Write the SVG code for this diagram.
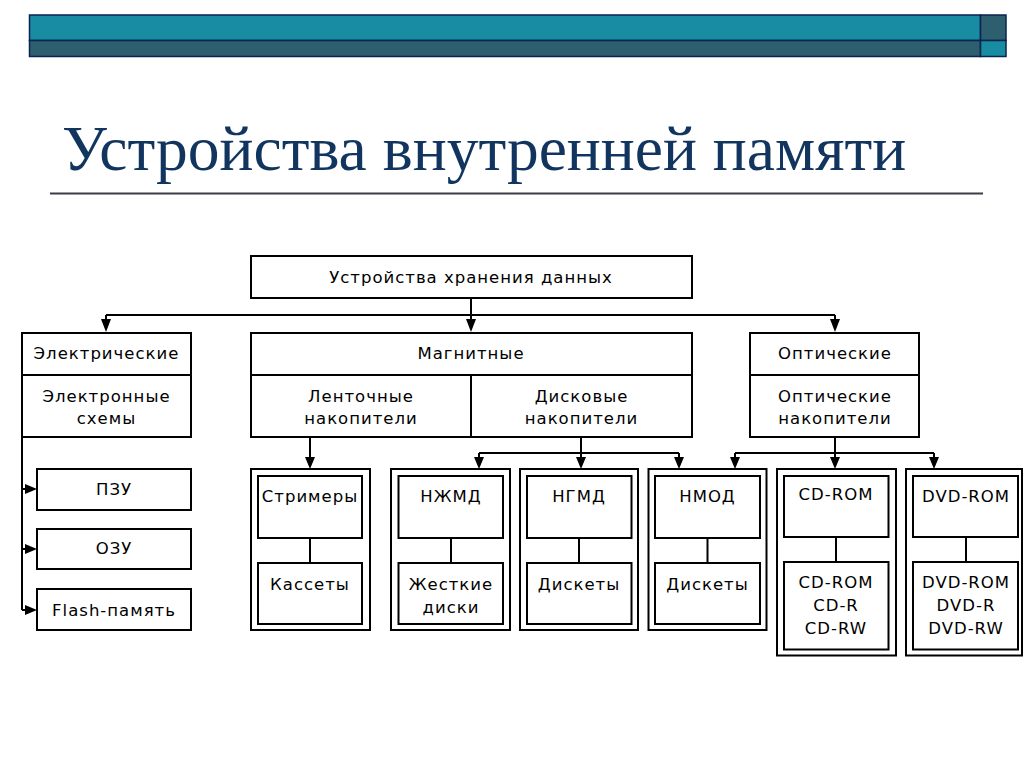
<svg xmlns="http://www.w3.org/2000/svg" width="1024" height="767" viewBox="0 0 1024 767">
<defs>
<style>
.box{fill:#fff;stroke:#000;stroke-width:2}
.ln{fill:none;stroke:#000;stroke-width:2}
.t{font-family:"DejaVu Sans",Verdana,sans-serif;font-size:16.5px;letter-spacing:1px;fill:#000;text-anchor:middle}
.title{font-family:"Liberation Serif","Times New Roman",serif;font-size:63.5px;fill:#11355f}
</style>
</defs>
<rect width="1024" height="767" fill="#fff"/>
<g id="header">
<rect x="29.5" y="15" width="951" height="25.5" fill="#178ca3" stroke="#0b2350" stroke-width="1.5"/>
<rect x="29.5" y="40.5" width="951" height="16" fill="#2d5f6e" stroke="#0b2350" stroke-width="1.5"/>
<rect x="980.5" y="15" width="25.5" height="25.5" fill="#2d5f6e" stroke="#0b2350" stroke-width="1.5"/>
<rect x="980.5" y="40.5" width="25.5" height="16" fill="#178ca3" stroke="#0b2350" stroke-width="1.5"/>
</g>
<g id="title">
<text class="title" x="62" y="170">Устройства внутренней памяти</text>
<line x1="50" y1="193.5" x2="983" y2="193.5" stroke="#3a3a48" stroke-width="2"/>
</g>
<g id="root">
<rect class="box" x="251" y="256" width="441" height="42"/>
<text class="t" x="471" y="283">Устройства хранения данных</text>
</g>
<g id="electric">
<rect class="box" x="22" y="333" width="169" height="104"/>
<line class="ln" x1="22" y1="375" x2="191" y2="375"/>
<text class="t" x="106.5" y="359">Электрические</text>
<text class="t" x="106.5" y="401.5">Электронные</text>
<text class="t" x="106.5" y="424">схемы</text>
</g>
<g id="magnetic">
<rect class="box" x="251" y="333" width="441" height="104"/>
<line class="ln" x1="251" y1="375" x2="692" y2="375"/>
<line class="ln" x1="471" y1="375" x2="471" y2="437"/>
<text class="t" x="471" y="359">Магнитные</text>
<text class="t" x="361" y="401.5">Ленточные</text>
<text class="t" x="361" y="424">накопители</text>
<text class="t" x="581.5" y="401.5">Дисковые</text>
<text class="t" x="581.5" y="424">накопители</text>
</g>
<g id="optical">
<rect class="box" x="750" y="333" width="169" height="104"/>
<line class="ln" x1="750" y1="375" x2="919" y2="375"/>
<text class="t" x="835" y="359">Оптические</text>
<text class="t" x="835" y="401.5">Оптические</text>
<text class="t" x="835" y="424">накопители</text>
</g>
<g id="pzu">
<rect class="box" x="37" y="469" width="154" height="41"/>
<text class="t" x="114" y="495">ПЗУ</text>
</g>
<g id="ozu">
<rect class="box" x="37" y="529" width="154" height="40"/>
<text class="t" x="114" y="554">ОЗУ</text>
</g>
<g id="flash">
<rect class="box" x="37" y="589" width="154" height="41"/>
<text class="t" x="114" y="615.5">Flash-память</text>
</g>
<g id="streamers">
<rect class="box" x="251" y="469" width="119" height="161"/>
<rect class="box" x="258" y="476" width="104" height="62"/>
<rect class="box" x="258" y="563" width="104" height="61"/>
<text class="t" x="310" y="502">Стримеры</text>
<text class="t" x="310" y="590">Кассеты</text>
</g>
<g id="nzhmd">
<rect class="box" x="391" y="469" width="119" height="161"/>
<rect class="box" x="398.5" y="476" width="104.5" height="62"/>
<rect class="box" x="398.5" y="563" width="104.5" height="61"/>
<text class="t" x="451" y="502">НЖМД</text>
<text class="t" x="451" y="590">Жесткие</text>
<text class="t" x="451" y="613">диски</text>
</g>
<g id="ngmd">
<rect class="box" x="520" y="469" width="118" height="161"/>
<rect class="box" x="527" y="476" width="104.5" height="62"/>
<rect class="box" x="527" y="563" width="104.5" height="61"/>
<text class="t" x="579" y="502">НГМД</text>
<text class="t" x="579" y="590">Дискеты</text>
</g>
<g id="nmod">
<rect class="box" x="648.5" y="469" width="118" height="161"/>
<rect class="box" x="655" y="476" width="105" height="62"/>
<rect class="box" x="655" y="563" width="105" height="61"/>
<text class="t" x="707.5" y="502">НМОД</text>
<text class="t" x="707.5" y="590">Дискеты</text>
</g>
<g id="cd">
<rect class="box" x="777" y="469" width="119" height="186.5"/>
<rect class="box" x="784" y="476" width="104.5" height="61"/>
<rect class="box" x="784" y="562" width="104.5" height="87.5"/>
<text class="t" x="836" y="500">CD-ROM</text>
<text class="t" x="836" y="588">CD-ROM</text>
<text class="t" x="836" y="611">CD-R</text>
<text class="t" x="836" y="634">CD-RW</text>
</g>
<g id="dvd">
<rect class="box" x="906" y="469" width="116" height="186.5"/>
<rect class="box" x="913" y="476" width="105" height="61"/>
<rect class="box" x="913" y="562" width="105" height="87.5"/>
<text class="t" x="966" y="501.5">DVD-ROM</text>
<text class="t" x="966" y="588">DVD-ROM</text>
<text class="t" x="966" y="611">DVD-R</text>
<text class="t" x="966" y="634">DVD-RW</text>
</g>
<g id="connectors">
<path class="ln" d="M471,298 V320 M106,315 H835 M106,315 V320 M835,315 V320"/>
<polygon points="101,319 111,319 106,332" fill="#000"/>
<polygon points="466,319 476,319 471,332" fill="#000"/>
<polygon points="830,319 840,319 835,332" fill="#000"/>
<path class="ln" d="M22,437 V610 M22,489 H26 M22,549 H26 M22,610 H26"/>
<polygon points="25,484 37,489 25,494" fill="#000"/>
<polygon points="25,544 37,549 25,554" fill="#000"/>
<polygon points="25,605 37,610 25,615" fill="#000"/>
<path class="ln" d="M310,437 V458"/>
<polygon points="305,457 315,457 310,469" fill="#000"/>
<path class="ln" d="M581,437 V458 M479,453 H679 M479,453 V458 M679,453 V458"/>
<polygon points="474,457 484,457 479,469" fill="#000"/>
<polygon points="576,457 586,457 581,469" fill="#000"/>
<polygon points="674,457 684,457 679,469" fill="#000"/>
<path class="ln" d="M835,437 V458 M735,453 H934 M735,453 V458 M934,453 V458"/>
<polygon points="730,457 740,457 735,469" fill="#000"/>
<polygon points="830,457 840,457 835,469" fill="#000"/>
<polygon points="929,457 939,457 934,469" fill="#000"/>
<path class="ln" d="M310,539 V562 M451,539 V562 M579,539 V562 M707.5,539 V562 M836,538 V561 M966,538 V561"/>
</g>
</svg>
